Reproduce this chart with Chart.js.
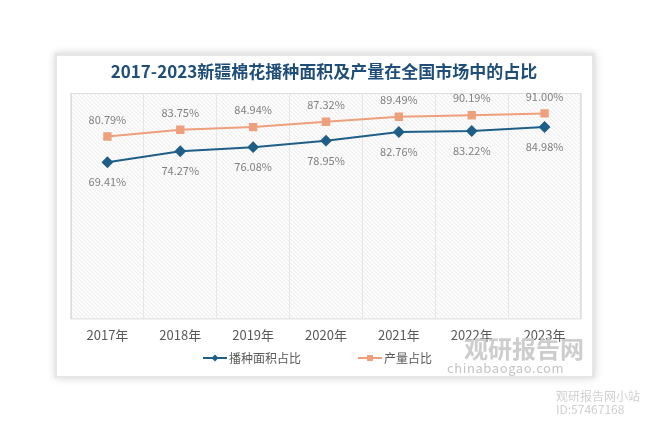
<!DOCTYPE html>
<html>
<head>
<meta charset="utf-8">
<script src="https://cdn.jsdelivr.net/npm/chart.js@4"></script>
<style>
  html, body { margin: 0; padding: 0; background: #ffffff; }
  #wrap { position: relative; width: 654px; height: 428px; }
  .wm { position: absolute; font-family: "Noto Sans CJK SC", sans-serif; color: #c8c8c8; white-space: nowrap; }
</style>
</head>
<body>
<div id="wrap">
  <canvas id="shareChart" width="654" height="428"></canvas>
  <div class="wm" style="left:464px; top:330px; font-size:24px; font-weight:bold; color:#cdcdcd;">观研报告网</div>
  <div class="wm" style="left:447px; top:358px; font-size:13px; color:#c4c4c4; letter-spacing:0.6px;">chinabaogao.com</div>
  <div class="wm" style="left:556px; top:389px; font-size:12px; line-height:13px; color:#d0d0d0;">观研报告网小站<br>ID:57467168</div>
</div>
<script>
// Data
const years = ['2017年', '2018年', '2019年', '2020年', '2021年', '2022年', '2023年'];
const sownShare = [69.41, 74.27, 76.08, 78.95, 82.76, 83.22, 84.98];
const outputShare = [80.79, 83.75, 84.94, 87.32, 89.49, 90.19, 91.00];
const seriesNames = ['播种面积占比', '产量占比'];

const blue = '#1f5f87';
const orange = '#ee9f7c';

// Card background, hatching and title
const backdrop = {
    id: 'backdrop',
    beforeDraw(chart) {
        const ctx = chart.ctx;
        const a = chart.chartArea;
        ctx.save();
        // card with soft shadow
        ctx.shadowColor = 'rgba(0,0,0,0.18)';
        ctx.shadowBlur = 8;
        ctx.fillStyle = '#e6e6e6';
        ctx.fillRect(55, 53, 540, 325);
        ctx.shadowBlur = 0;
        ctx.shadowColor = 'transparent';
        ctx.fillStyle = '#ffffff';
        ctx.fillRect(57, 56, 535, 320);

        // hatched plot area
        ctx.beginPath();
        ctx.rect(a.left, a.top, a.right - a.left, a.bottom - a.top);
        ctx.clip();
        ctx.fillStyle = '#fdfdfd';
        ctx.fillRect(a.left, a.top, a.right - a.left, a.bottom - a.top);
        ctx.strokeStyle = '#e9e9e9';
        ctx.lineWidth = 1;
        const h = a.bottom - a.top;
        for (let x = a.left - h; x < a.right; x += 4) {
            ctx.beginPath();
            ctx.moveTo(x, a.top);
            ctx.lineTo(x + h, a.bottom);
            ctx.stroke();
        }
        ctx.restore();

        ctx.save();
        ctx.strokeStyle = '#dddddd';
        ctx.lineWidth = 1;
        ctx.strokeRect(a.left + 0.5, a.top + 0.5, a.right - a.left - 1, a.bottom - a.top - 1);

        ctx.fillStyle = '#1f4e79';
        ctx.font = 'bold 17px "Noto Sans CJK SC", sans-serif';
        ctx.textAlign = 'center';
        ctx.textBaseline = 'middle';
        ctx.fillText('2017-2023新疆棉花播种面积及产量在全国市场中的占比', 324, 72);
        ctx.restore();
    },
    afterDraw(chart) {
        const ctx = chart.ctx;
        ctx.save();
        ctx.font = '11px "Noto Sans CJK SC", sans-serif';
        ctx.fillStyle = '#7f7f7f';
        ctx.textAlign = 'center';
        ctx.textBaseline = 'middle';
        chart.getDatasetMeta(0).data.forEach((pt, i) => {
            ctx.fillText(sownShare[i].toFixed(2) + '%', pt.x, pt.y + 20);
        });
        chart.getDatasetMeta(1).data.forEach((pt, i) => {
            ctx.fillText(outputShare[i].toFixed(2) + '%', pt.x, pt.y - 17);
        });

        // legend
        const items = [
            { x: 203, color: blue, style: 'diamond', label: seriesNames[0] },
            { x: 358, color: orange, style: 'square', label: seriesNames[1] }
        ];
        const ly = 358;
        ctx.font = '12px "Noto Sans CJK SC", sans-serif';
        ctx.textAlign = 'left';
        items.forEach(it => {
            ctx.strokeStyle = it.color;
            ctx.fillStyle = it.color;
            ctx.lineWidth = 2;
            ctx.beginPath();
            ctx.moveTo(it.x, ly);
            ctx.lineTo(it.x + 24, ly);
            ctx.stroke();
            if (it.style === 'diamond') {
                ctx.beginPath();
                ctx.moveTo(it.x + 12, ly - 3.5);
                ctx.lineTo(it.x + 15.5, ly);
                ctx.lineTo(it.x + 12, ly + 3.5);
                ctx.lineTo(it.x + 8.5, ly);
                ctx.closePath();
                ctx.fill();
            } else {
                ctx.fillRect(it.x + 9, ly - 3, 6, 6);
            }
            ctx.fillStyle = '#595959';
            ctx.fillText(it.label, it.x + 26, ly);
        });
        ctx.restore();
    }
};

new Chart(document.getElementById('shareChart').getContext('2d'), {
    type: 'line',
    data: {
        labels: years,
        datasets: [{
            label: seriesNames[0],
            data: sownShare,
            borderColor: blue,
            backgroundColor: blue,
            borderWidth: 2,
            pointStyle: 'rectRot',
            pointRadius: 4.5,
            pointHoverRadius: 4.5,
            tension: 0
        }, {
            label: seriesNames[1],
            data: outputShare,
            borderColor: orange,
            backgroundColor: orange,
            borderWidth: 2,
            pointStyle: 'rect',
            pointRadius: 4.5,
            pointHoverRadius: 4.5,
            tension: 0
        }]
    },
    options: {
        responsive: false,
        animation: false,
        layout: {
            padding: { left: 71, right: 73, top: 93, bottom: 77 }
        },
        plugins: {
            legend: { display: false },
            tooltip: { enabled: false }
        },
        scales: {
            x: {
                offset: true,
                grid: {
                    offset: true,
                    color: '#e6e6e6',
                    drawTicks: false
                },
                border: { display: false },
                ticks: {
                    color: '#595959',
                    padding: 8,
                    font: { size: 13, family: '"Noto Sans CJK SC", sans-serif' }
                }
            },
            y: {
                display: false,
                min: 0,
                max: 100
            }
        }
    },
    plugins: [backdrop]
});
</script>
</body>
</html>
